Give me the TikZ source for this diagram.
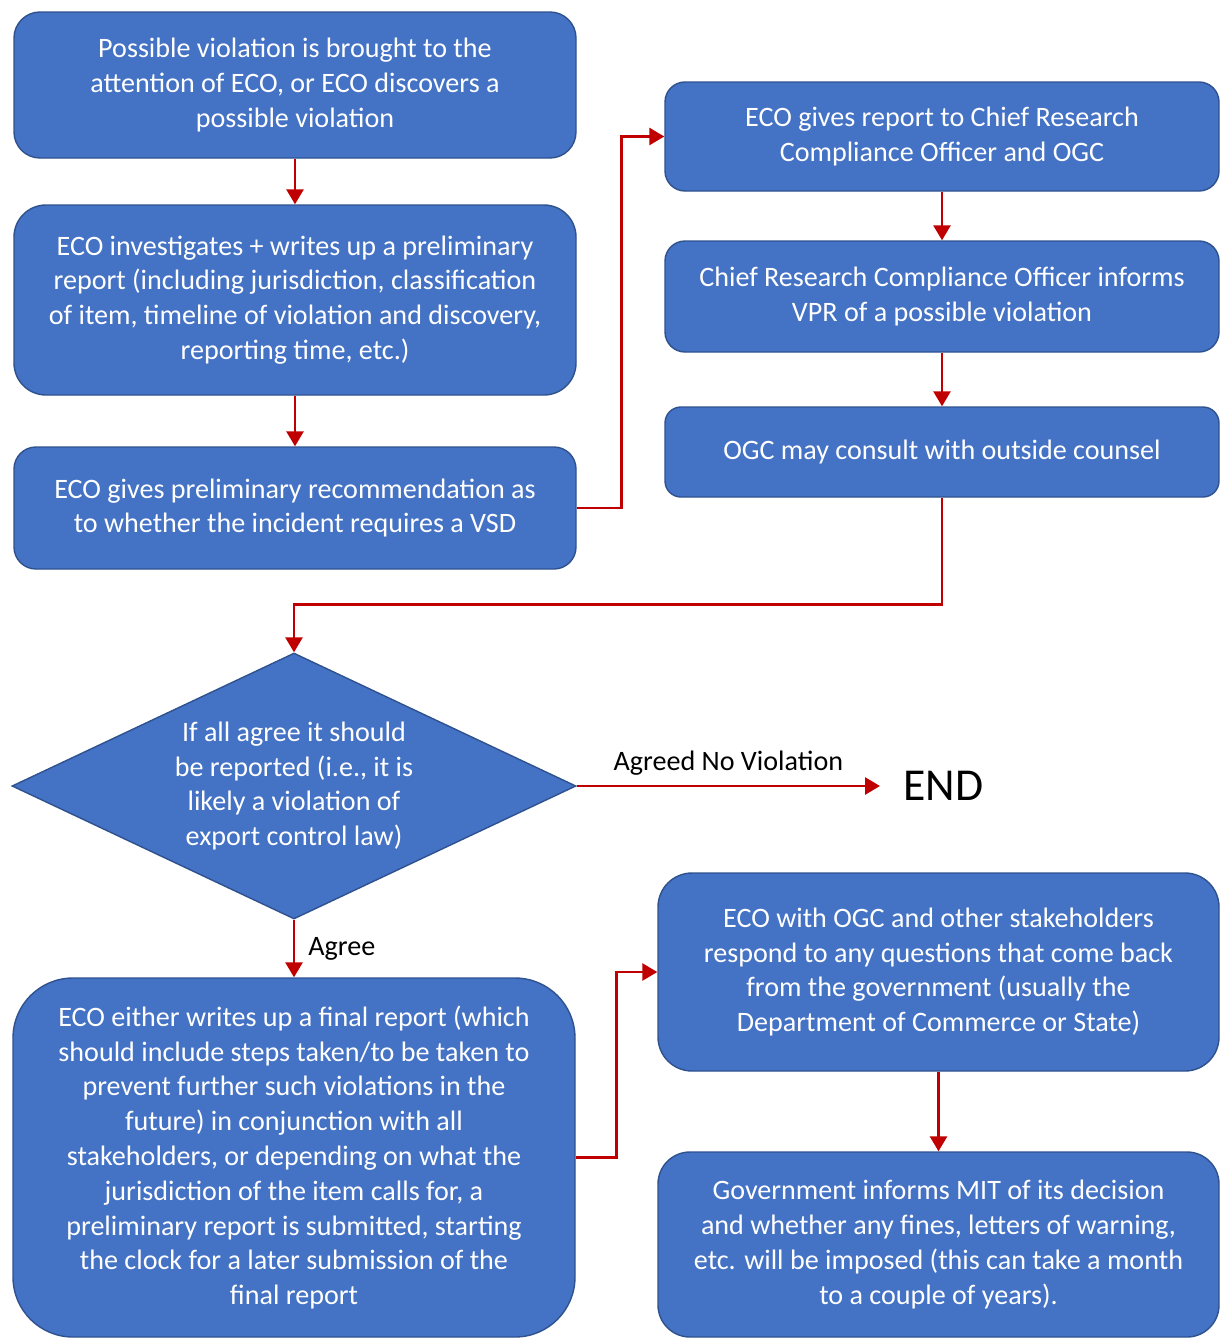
\documentclass[tikz,border=0pt]{standalone}
\usepackage{fontspec}
\setmainfont{Carlito}
\usetikzlibrary{arrows.meta,shapes.geometric,positioning}
\definecolor{boxblue}{HTML}{4472C4}
\definecolor{boxedge}{HTML}{2F528F}
\definecolor{arrowred}{HTML}{C00000}
\tikzstyle{etape}=[draw=boxedge, line width=0.8pt, fill=boxblue, text=white,
  align=center, inner sep=0pt, font=\fontsize{16}{19.8}\selectfont]
\tikzstyle{decision}=[etape, diamond, aspect=2.1]
\tikzstyle{line}=[draw, line width=1.6pt, color=arrowred,
  -{Triangle[length=0.3cm,width=0.34cm]}]
\tikzstyle{tag}=[text=black, font=\fontsize{16}{19.8}\selectfont]
\newcommand{\etape}[5]{node (p#1) [etape, minimum width=#2*0.02cm,
  minimum height=#3*0.02cm, rounded corners=#4*0.02cm] {#5}}

\begin{document}
\begin{tikzpicture}[x=0.02cm,y=-0.02cm]
  \useasboundingbox (0,0) rectangle (1221,1339);

  % Left column
  \path (295,85) \etape{1}{562}{146}{26}{Possible violation is brought to the\\
    attention of ECO, or ECO discovers a\\ possible violation};
  \path (295,300) \etape{2}{562}{190}{32}{ECO investigates + writes up a preliminary\\
    report (including jurisdiction, classification\\
    of item, timeline of violation and discovery,\\ reporting time, etc.)};
  \path (295,508) \etape{3}{562}{122}{22}{ECO gives preliminary recommendation as\\
    to whether the incident requires a VSD};

  % Right column
  \path (942,136.5) \etape{4}{554}{109}{20}{ECO gives report to Chief Research\\
    Compliance Officer and OGC};
  \path (942,296.5) \etape{5}{554}{111}{20}{Chief Research Compliance Officer informs\\
    VPR of a possible violation};
  \path (942,452) \etape{6}{554}{90}{16}{OGC may consult with outside counsel};

  % Decision
  \node (dec) [decision, minimum width=564*0.02cm, minimum height=266*0.02cm]
    at (294,786) {If all agree it should\\ be reported (i.e., it is\\
    likely a violation of\\ export control law)};
  \node (end) [anchor=west, inner xsep=0.46cm, font=\fontsize{26}{30}\selectfont]
    at (880,786) {END};

  % Lower part
  \path (294,1157.5) \etape{7}{562}{359}{60}{ECO either writes up a final report (which\\
    should include steps taken/to be taken to\\
    prevent further such violations in the\\
    future) in conjunction with all\\
    stakeholders, or depending on what the\\
    jurisdiction of the item calls for, a\\
    preliminary report is submitted, starting\\
    the clock for a later submission of the\\ final report};
  \path (938.5,972) \etape{8}{561}{198}{34}{ECO with OGC and other stakeholders\\
    respond to any questions that come back\\
    from the government (usually the\\
    Department of Commerce or State)};
  \path (938.5,1244.5) \etape{9}{561}{185}{32}{Government informs MIT of its decision\\
    and whether any fines, letters of warning,\\
    etc. will be imposed (this can take a month\\ to a couple of years).};

  % Arrows
  \path [line] (p1.south) -- (p2.north);
  \path [line] (p2.south) -- (p3.north);
  \path [line] (p3.east) -- ++(45,0) |- (p4.west);
  \path [line] (p4.south) -- (p5.north);
  \path [line] (p5.south) -- (p6.north);
  \path [line] (p6.south) -- ++(0,107) -| (dec.north);
  \path [line] (dec.east) -- node [tag, above=2pt] {Agreed No Violation} (end.west);
  \path [line] (dec.south) -- node [tag, right=4pt] {Agree} (p7.north);
  \path [line] (p7.east) -- ++(41,0) |- (p8.west);
  \path [line] (p8.south) -- (p9.north);
\end{tikzpicture}
\end{document}
